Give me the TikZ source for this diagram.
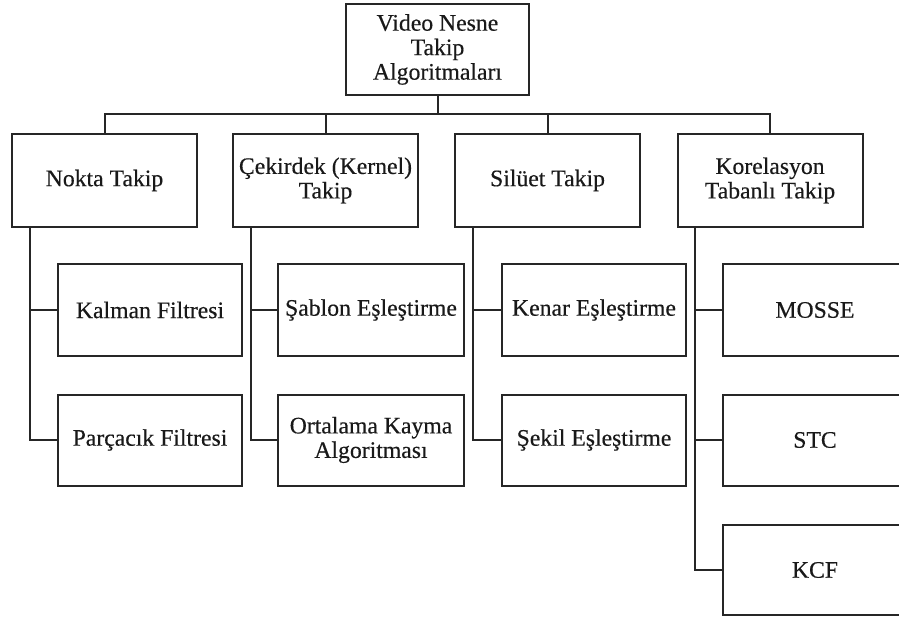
\documentclass[tikz,border=0pt]{standalone}
\usepackage{fontspec}
\setmainfont{Liberation Serif}[FakeBold=0.35]
\begin{document}
\begin{tikzpicture}[x=1pt,y=-1pt,
  line width=2pt,
  box/.style={draw=black!85, fill=white, align=center, inner sep=1pt,
    font=\fontsize{23.7}{24.5}\selectfont, text=black!90},
  catbox/.style={box, minimum width=185pt, minimum height=93pt},
  leafbox/.style={box, minimum width=184pt, minimum height=91pt},
  link/.style={draw=black!85, line width=2pt}]
\useasboundingbox (0,0) rectangle (899,620);
\clip (0,0) rectangle (899,620);

% root
\node[box, minimum width=183pt, minimum height=91pt] (root) at (437.5,49.5)
  {Video Nesne\\Takip\\Algoritmaları};

% main categories
\node[catbox] (nokta) at (104.5,180.5) {Nokta Takip};
\node[catbox] (cekirdek) at (325.5,180.5) {Çekirdek (Kernel)\\Takip};
\node[catbox] (siluet) at (547.5,180.5) {Silüet Takip};
\node[catbox] (kore) at (770,180.5) {Korelasyon\\Tabanlı Takip};

% methods
\node[leafbox] (kalman) at (150,310) {Kalman Filtresi};
\node[leafbox] (parcacik) at (150,440) {Parçacık Filtresi};
\node[leafbox, minimum width=186pt] (sablon) at (371,310) {Şablon Eşleştirme};
\node[leafbox, minimum width=186pt] (ortalama) at (371,440) {Ortalama Kayma\\Algoritması};
\node[leafbox] (kenar) at (594,310) {Kenar Eşleştirme};
\node[leafbox] (sekil) at (594,440) {Şekil Eşleştirme};
\node[leafbox] (mosse) at (815,310) {MOSSE};
\node[leafbox] (stc) at (815,440) {STC};
\node[leafbox, minimum height=90pt] (kcf) at (815,570) {KCF};

% bus from root to categories
\coordinate (bus) at (437.5,114);
\draw[link] (root.south) -- (bus);
\foreach \c in {nokta,cekirdek,siluet,kore}
  \draw[link] (\c.north) |- (bus);

% branches from each category to its methods
\foreach \p/\kids in {nokta/{kalman,parcacik},cekirdek/{sablon,ortalama},
                      siluet/{kenar,sekil},kore/{mosse,stc,kcf}}
  \foreach \k in \kids
    \draw[link] ([xshift=18.5pt]\p.south west) |- (\k.west);
\end{tikzpicture}
\end{document}
